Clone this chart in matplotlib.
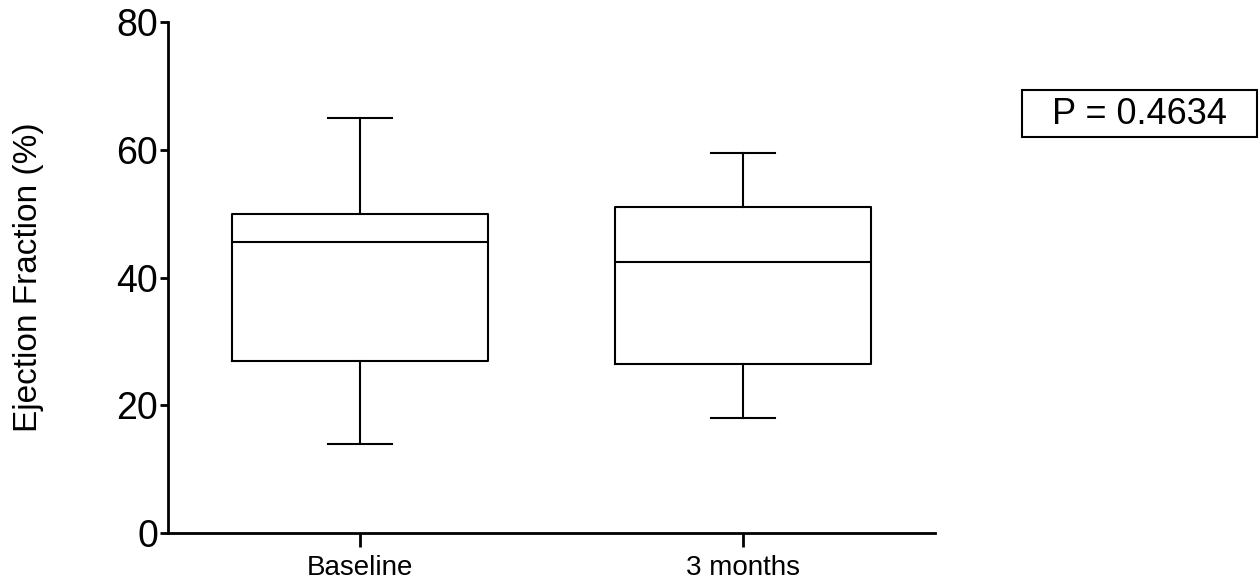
import matplotlib.pyplot as plt
from matplotlib.patches import Rectangle

plt.rcParams['font.family'] = ['Liberation Sans', 'DejaVu Sans']

groups = ["Baseline", "3 months"]
whisker_low = [14, 18]
q1 = [27, 26.5]
median = [45.5, 42.5]
q3 = [50, 51]
whisker_high = [65, 59.5]
y_ticks = [0, 20, 40, 60, 80]
p_text = "P = 0.4634"

stats = []
for i, g in enumerate(groups):
    stats.append({"label": g, "whislo": whisker_low[i], "q1": q1[i], "med": median[i],
                  "q3": q3[i], "whishi": whisker_high[i], "fliers": []})

W, H = 1260, 588
fig = plt.figure(figsize=(12.6, 5.88), dpi=100)
ax = fig.add_axes([168 / W, 1 - 533 / H, (935 - 168) / W, (533 - 22) / H])

lp = dict(color="black", linewidth=1.5)
ax.bxp(stats, positions=[1, 2], widths=0.668, showfliers=False,
       boxprops=lp, medianprops=lp, whiskerprops=lp, capprops=lp, capwidths=0.167)

ax.set_xlim(0.5, 2.5)
ax.set_ylim(0, 80)
ax.set_yticks(y_ticks)
ax.tick_params(axis="y", labelsize=27, length=6, width=2, pad=1)
ax.tick_params(axis="x", labelsize=20, length=10, width=2, pad=6)
ax.set_xticks([1, 2])
ax.set_xticklabels(groups)
ax.set_ylabel("Ejection Fraction (%)", fontsize=24, labelpad=52)
for s in ["top", "right"]:
    ax.spines[s].set_visible(False)
for s in ["left", "bottom"]:
    ax.spines[s].set_linewidth(2)

# P-value box
fig.patches.append(Rectangle((1022 / W, 1 - 137 / H), (1257 - 1022) / W, (137 - 90) / H,
                             transform=fig.transFigure, facecolor="white",
                             edgecolor="black", linewidth=1.5))
fig.text(1139 / W, 1 - 114 / H, p_text, fontsize=26, ha="center", va="center")

fig.savefig("out.png", dpi=100)
